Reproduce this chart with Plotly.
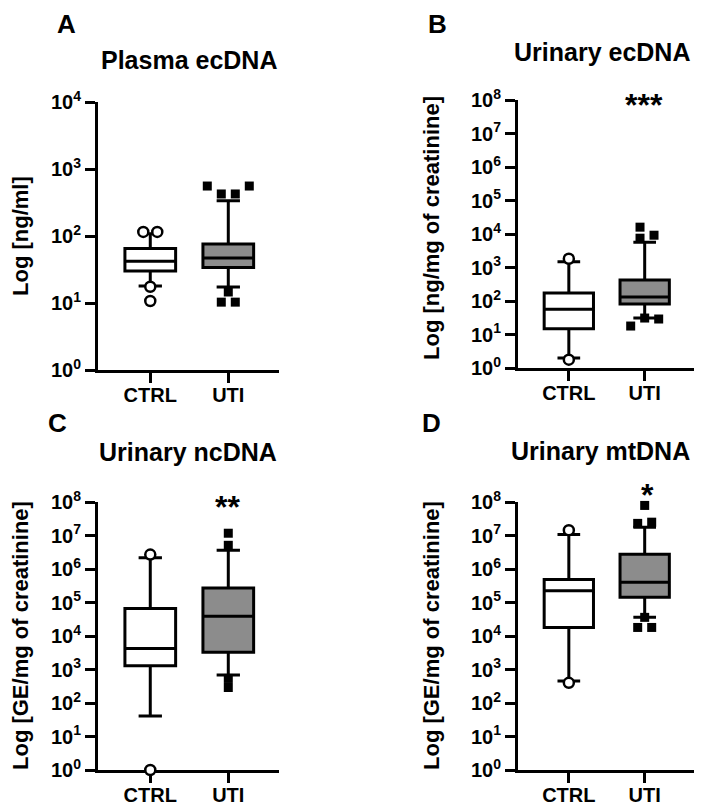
import numpy as np
import plotly.graph_objects as go

groups = ["CTRL", "UTI"]
titles = ["Plasma ecDNA", "Urinary ecDNA", "Urinary ncDNA", "Urinary mtDNA"]
letters = ["A", "B", "C", "D"]
y_titles = ["Log [ng/ml]", "Log [ng/mg of creatinine]",
            "Log [GE/mg of creatinine]", "Log [GE/mg of creatinine]"]
stars = ["", "***", "**", "*"]
decades = [4, 8, 8, 8]

# whisker low, q1, median, q3, whisker high
ctrl_stats = [
    [18, 30, 42, 65, 108],
    [2.0, 14.9, 57, 172, 1480],
    [41, 1290, 4250, 66000, 2.15e6],
    [451, 1.79e4, 2.24e5, 4.85e5, 1.07e7],
]
uti_stats = [
    [17.4, 34, 47, 76, 335],
    [31, 81, 131, 420, 5700],
    [680, 3300, 3.9e4, 2.7e5, 3.6e6],
    [3.6e4, 1.44e5, 4.0e5, 2.75e6, 1.76e7],
]
ctrl_outliers = [
    [115, 115, 17.5, 10.7],
    [1820, 1.77],
    [2.7e6, 1.0],
    [1.44e7, 400],
]
uti_outliers = [
    [557, 557, 424, 424, 14.6, 10.3, 10.3],
    [16000, 9200, 7500, 31, 29, 17.9],
    [1.17e7, 5.1e6, 540, 290],
    [7.9e7, 2.5e7, 2.3e7, 3.6e4, 1.8e4, 1.8e4],
]

# the page body has an 8px margin, so the figure is drawn 8px in
PAGE_W, PAGE_H, BODY = 702, 805, 8
W, H = PAGE_W - BODY, PAGE_H - BODY

# plot areas in page pixels: left, right, top, bottom
panels_px = [(98, 279, 102, 370), (518, 694, 100, 368),
             (98, 279, 502, 770), (518, 694, 502, 770)]
title_px = [(189, 60), (602, 52), (188, 452), (600, 451)]
# panel letters: top of text box (page px)
letter_px = [(66, 8), (437, 8), (57, 407), (431, 407)]
ytitle_px = [(20, 236), (431, 228), (20, 636), (431, 636)]
star_px = [None, (644, 105), (227, 507), (647, 495)]

FONT = "Liberation Sans"
X_LO, X_HI = -0.67, 1.65


def px(x, y):
    return (x - BODY) / W, 1 - (y - BODY) / H


def swarm(vals, centre, px_dec, px_unit, dist=8.5, step=14):
    # simple beeswarm: points nearest the box are placed first,
    # later ones are pushed sideways when they would overlap
    ys = [np.log10(v) * px_dec for v in vals]
    yc = np.log10(centre) * px_dec
    order = sorted(range(len(vals)), key=lambda i: abs(ys[i] - yc))
    cands = [0]
    for k in range(1, 8):
        cands += [k * step, -k * step]
    placed, off = [], [0.0] * len(vals)
    for i in order:
        for c in cands:
            if all((c - a) ** 2 + (ys[i] - b) ** 2 >= dist ** 2 for a, b in placed):
                break
        placed.append((c, ys[i]))
        off[i] = c
    # centre each vertical cluster
    by_y = sorted(range(len(vals)), key=lambda i: ys[i])
    clusters, cur = [], [by_y[0]]
    for a, b in zip(by_y[:-1], by_y[1:]):
        if abs(ys[a] - ys[b]) < dist:
            cur.append(b)
        else:
            clusters.append(cur)
            cur = [b]
    clusters.append(cur)
    for cl in clusters:
        m = np.mean([off[i] for i in cl])
        for i in cl:
            off[i] -= m
    return [o / px_unit for o in off]


fig = go.Figure()
annotations = []

for p in range(4):
    n = "" if p == 0 else str(p + 1)
    l, r, t, b = panels_px[p]
    px_unit = (r - l) / (X_HI - X_LO)
    px_dec = (b - t) / decades[p]

    for g, (stats, outs) in enumerate([(ctrl_stats[p], ctrl_outliers[p]),
                                       (uti_stats[p], uti_outliers[p])]):
        fig.add_trace(go.Box(
            x=[g], lowerfence=[stats[0]], q1=[stats[1]], median=[stats[2]],
            q3=[stats[3]], upperfence=[stats[4]],
            width=0.65, whiskerwidth=0.46, boxpoints=False,
            fillcolor="white" if g == 0 else "#8c8c8c",
            line=dict(color="black", width=3),
            xaxis="x" + n, yaxis="y" + n, hoverinfo="skip",
        ))
        offs = swarm(outs, stats[2], px_dec, px_unit)
        if g == 0:
            marker = dict(symbol="circle", size=10, color="white",
                          line=dict(color="black", width=2.5))
        else:
            marker = dict(symbol="square", size=9, color="black",
                          line=dict(color="black", width=0))
        fig.add_trace(go.Scatter(
            x=[g + o for o in offs], y=outs, mode="markers", marker=marker,
            cliponaxis=False, xaxis="x" + n, yaxis="y" + n, hoverinfo="skip",
        ))

    x0, y1 = px(l, t)
    x1, y0 = px(r, b)
    axis_common = dict(showline=True, linecolor="black", linewidth=3,
                       ticks="outside", ticklen=10, tickwidth=3,
                       tickcolor="black", showgrid=False, zeroline=False,
                       layer="below traces", automargin=False,
                       fixedrange=True)
    fig.update_layout(**{
        "xaxis" + n: dict(domain=[x0, x1], range=[X_LO, X_HI],
                          tickvals=[0, 1], ticktext=groups, anchor="y" + n,
                          ticklabelstandoff=-5,
                          tickfont=dict(family=FONT, size=20, color="black",
                                        weight="bold"),
                          **axis_common),
        "yaxis" + n: dict(domain=[y0, y1], type="log", range=[0, decades[p]],
                          tickvals=[10 ** k for k in range(decades[p] + 1)],
                          ticktext=["10<sup>%d</sup>" % k
                                    for k in range(decades[p] + 1)],
                          anchor="x" + n,
                          tickfont=dict(family=FONT, size=20, color="black",
                                        weight="bold"),
                          **axis_common),
    })

    tx, ty = px(*title_px[p])
    annotations.append(dict(text=titles[p], x=tx, y=ty, xref="paper",
                            yref="paper", showarrow=False, xanchor="center",
                            yanchor="middle",
                            font=dict(family=FONT, size=25, color="black",
                                      weight="bold")))
    lx, ly = px(*letter_px[p])
    annotations.append(dict(text=letters[p], x=lx, y=ly, xref="paper",
                            yref="paper", showarrow=False, xanchor="center",
                            yanchor="top", borderpad=0,
                            font=dict(family=FONT, size=26, color="black",
                                      weight="bold")))
    yx, yy = px(*ytitle_px[p])
    annotations.append(dict(text=y_titles[p], x=yx, y=yy, xref="paper",
                            yref="paper", showarrow=False, xanchor="center",
                            yanchor="middle", textangle=-90,
                            font=dict(family=FONT, size=22, color="black",
                                      weight="bold")))
    if stars[p]:
        sx, sy = px(*star_px[p])
        annotations.append(dict(text=stars[p], x=sx, y=sy, xref="paper",
                                yref="paper", showarrow=False,
                                xanchor="center", yanchor="middle",
                                font=dict(family=FONT, size=32, color="black",
                                          weight="bold")))

fig.update_layout(width=W, height=H, margin=dict(l=0, r=0, t=0, b=0),
                  showlegend=False, plot_bgcolor="white",
                  paper_bgcolor="white", annotations=annotations)

fig.write_html("out.html")
